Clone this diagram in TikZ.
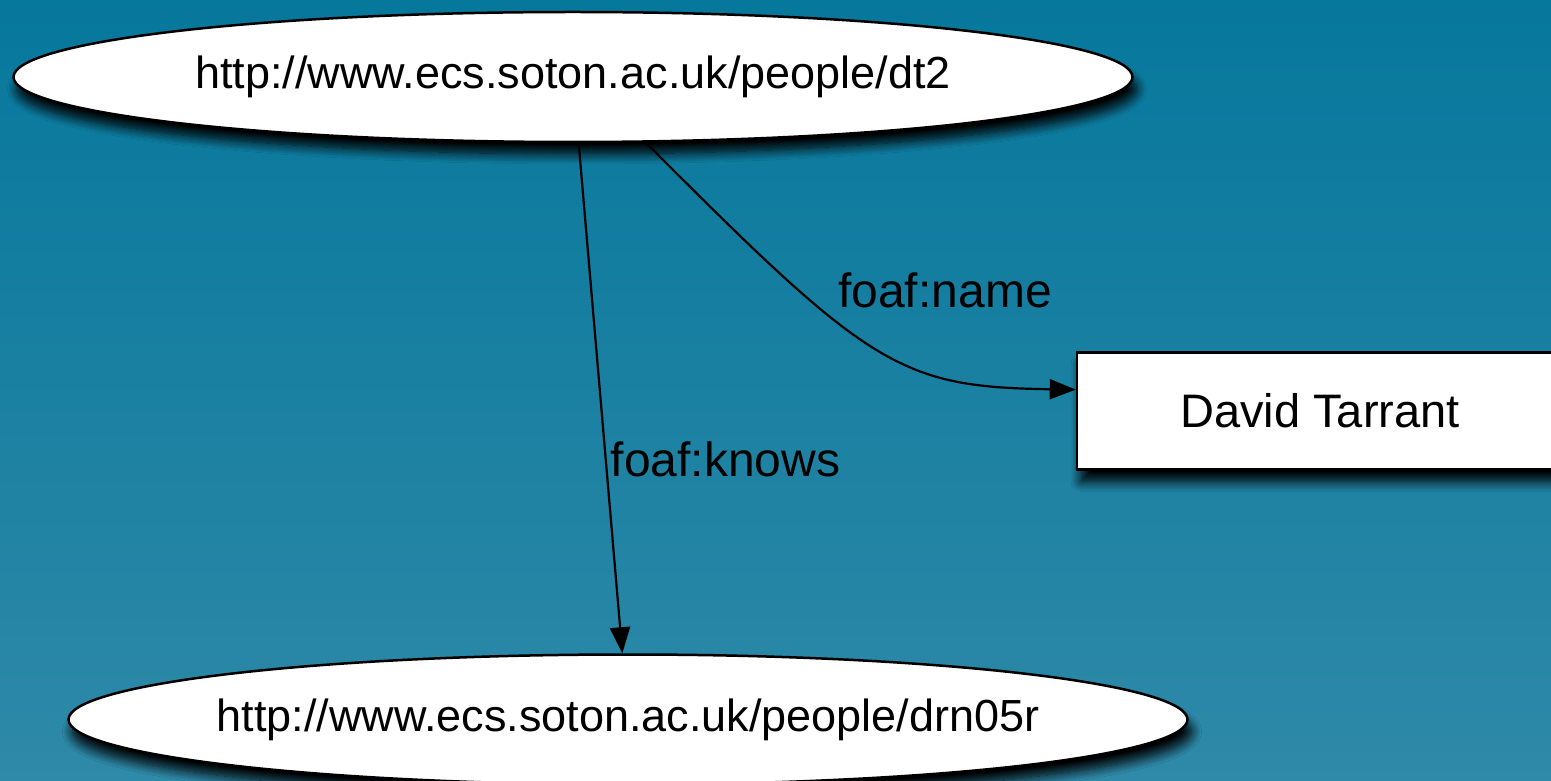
\documentclass[tikz,border=0pt]{standalone}
\usepackage{fontspec}
\setmainfont{Liberation Sans}
\usetikzlibrary{arrows.meta, positioning, shapes.geometric, shadows.blur}

\definecolor{bgtop}{RGB}{6,120,156}
\definecolor{bgbottom}{RGB}{47,137,168}

\begin{document}
\begin{tikzpicture}[
    x=1pt, y=1pt,
    node distance=510pt,
    boxshadow/.style={blur shadow={shadow xshift=4pt, shadow yshift=-12pt, shadow blur radius=10pt, shadow blur steps=12, shadow opacity=100}},
    resource/.style={draw, ellipse, fill=white, line width=2.5pt, inner xsep=-40pt, inner ysep=0pt, minimum width=1119pt, minimum height=130pt, font=\fontsize{45}{54}\selectfont, boxshadow},
    literal/.style={draw, rectangle, fill=white, line width=2.5pt, minimum width=486pt, minimum height=117pt, font=\fontsize{47}{56}\selectfont, boxshadow},
    prop/.style={inner sep=4pt, font=\fontsize{48}{58}\selectfont},
    arrow/.style={-{Triangle[length=26pt, width=20pt]}, line width=2.2pt},
    ]

% Fond
\useasboundingbox (0,0) rectangle (1551,780);
\shade[top color=bgtop, bottom color=bgbottom] (0,0) rectangle (1551,780);

% Noeuds
\node[resource] (dt2) at (573,703) {http://www.ecs.soton.ac.uk/people/dt2};
\node[resource, below=of dt2, xshift=55pt] (drn05r) {http://www.ecs.soton.ac.uk/people/drn05r};
\node[literal] (tarrant) at (1320,369) {David Tarrant};

% Propriétés
\draw[arrow] (dt2) -- (drn05r) node[prop, pos=0.62, right] (knows) {foaf:knows};
\draw[arrow] (dt2.-42) .. controls (870,412) and (900,393) .. (tarrant.175);
\node[prop] (name) at (945,490) {foaf:name};

\end{tikzpicture}
\end{document}
